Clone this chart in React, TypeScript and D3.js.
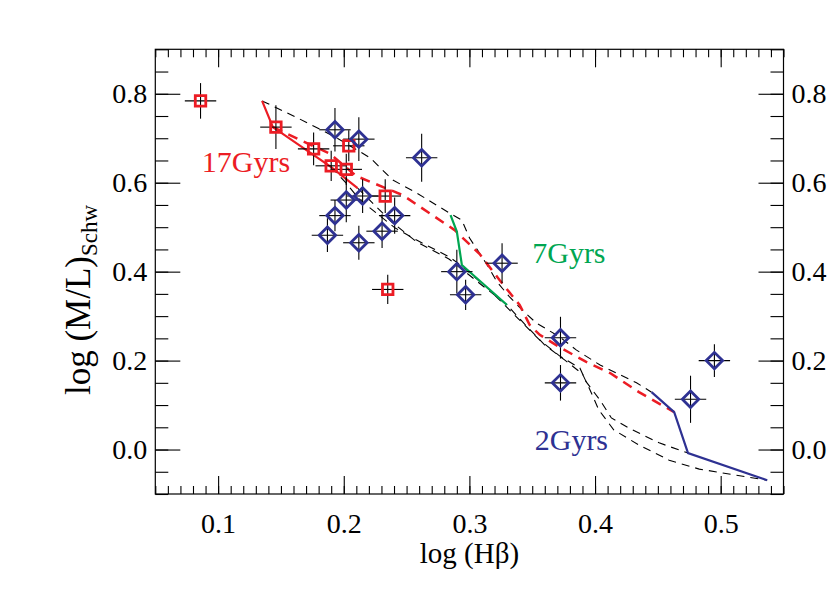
import * as d3 from 'd3';
import { useEffect, useRef } from 'react';

const WIDTH = 830;
const HEIGHT = 593;

// red squares (with errors)
const squareX = [0.086, 0.146, 0.176, 0.204, 0.190, 0.202, 0.233, 0.235];
const squareY = [0.784, 0.725, 0.676, 0.683, 0.638, 0.630, 0.570, 0.360];
const squareErrY = [0.040, 0.049, 0.037, 0.035, 0.034, 0.035, 0.038, 0.033];

// blue diamonds (with errors)
const diamondX = [0.193, 0.212, 0.262, 0.202, 0.215, 0.193, 0.2405, 0.187, 0.2305, 0.212, 0.290, 0.297, 0.326, 0.3725, 0.3725, 0.476, 0.495];
const diamondY = [0.719, 0.698, 0.656, 0.561, 0.570, 0.526, 0.526, 0.482, 0.491, 0.465, 0.400, 0.348, 0.419, 0.2515, 0.150, 0.113, 0.200];
const diamondErrY = [0.049, 0.049, 0.054, 0.050, 0.038, 0.035, 0.041, 0.038, 0.038, 0.038, 0.049, 0.034, 0.045, 0.047, 0.040, 0.053, 0.037];
const errX = 0.0125;

// model tracks (constant metallicity, dashed)
const trackA = [[0.135, 0.784], [0.163, 0.746], [0.193, 0.703], [0.221, 0.656], [0.239, 0.606], [0.258, 0.577], [0.284, 0.532], [0.294, 0.516], [0.300, 0.476], [0.308, 0.442], [0.315, 0.411], [0.322, 0.377], [0.332, 0.343], [0.342, 0.314], [0.353, 0.285], [0.372, 0.253], [0.385, 0.224], [0.404, 0.190], [0.433, 0.150], [0.445, 0.129]];
const trackRed = [[0.1436, 0.725], [0.189, 0.665], [0.210, 0.615], [0.247, 0.572], [0.268, 0.532], [0.288, 0.494], [0.308, 0.440], [0.324, 0.381], [0.340, 0.325], [0.348, 0.280], [0.356, 0.258], [0.373, 0.228], [0.393, 0.197], [0.412, 0.172], [0.435, 0.129], [0.463, 0.084]];
const trackC = [[0.190, 0.635], [0.201, 0.602], [0.213, 0.561], [0.241, 0.498], [0.258, 0.471], [0.284, 0.433], [0.294, 0.413], [0.316, 0.359], [0.340, 0.291], [0.356, 0.246], [0.372, 0.210], [0.388, 0.183], [0.393, 0.152], [0.404, 0.111], [0.413, 0.071], [0.427, 0.048], [0.451, 0.015], [0.474, -0.008]];
const trackD = [[0.211, 0.588], [0.222, 0.557], [0.238, 0.512], [0.258, 0.467], [0.284, 0.428], [0.308, 0.374], [0.330, 0.325], [0.344, 0.282], [0.360, 0.235], [0.376, 0.201], [0.390, 0.170], [0.396, 0.134], [0.403, 0.089], [0.415, 0.044], [0.435, 0.010], [0.459, -0.024], [0.483, -0.044], [0.511, -0.057], [0.537, -0.069]];

// constant age lines
const age17 = [[0.135, 0.784], [0.1436, 0.725], [0.190, 0.635], [0.211, 0.588]];
const age7 = [[0.285, 0.527], [0.290, 0.490], [0.294, 0.415], [0.330, 0.325]];
const age2 = [[0.445, 0.129], [0.463, 0.084], [0.474, -0.008], [0.537, -0.069]];

const ageLabels = [
  { text: '17Gyrs', x: 0.087, y: 0.624, color: '#ec1c24' },
  { text: '7Gyrs', x: 0.350, y: 0.419, color: '#00a651' },
  { text: '2Gyrs', x: 0.352, y: 0.0, color: '#2e3192' },
];

const xMajor = [0.1, 0.2, 0.3, 0.4, 0.5];
const yMajor = [0.0, 0.2, 0.4, 0.6, 0.8];

const RED = '#ec1c24';
const GREEN = '#00a651';
const BLUE = '#2e3192';
const FONT = "'Liberation Serif', 'Times New Roman', serif";

const App = () => {
  const svgRef = useRef<SVGSVGElement | null>(null);

  useEffect(() => {
    const margin = { left: 155.3, right: 783.5, top: 49.3, bottom: 494 };
    const x = d3.scaleLinear().domain([0.05, 0.55]).range([margin.left, margin.right]);
    const y = d3.scaleLinear().domain([-0.1, 0.9]).range([margin.bottom, margin.top]);

    const svg = d3.select(svgRef.current);
    svg.selectAll('*').remove();
    const g = svg.append('g');

    // frame
    g.append('rect')
      .attr('x', margin.left).attr('y', margin.top)
      .attr('width', margin.right - margin.left).attr('height', margin.bottom - margin.top)
      .attr('fill', 'none').attr('stroke', '#000').attr('stroke-width', 1.2);

    const xMinor = d3.range(0.05, 0.5501, 0.01);
    const yMinor = d3.range(-0.1, 0.9001, 0.05);

    const styleAxis = (sel: any) => {
      sel.select('.domain').remove();
      sel.selectAll('line').attr('stroke', '#000').attr('stroke-width', 1.1);
      sel.selectAll('text').attr('font-family', FONT).attr('font-size', 28).attr('fill', '#000');
    };

    // bottom
    g.append('g').attr('transform', `translate(0,${margin.bottom})`)
      .call(d3.axisBottom(x).tickValues(xMinor).tickSize(-8).tickFormat(() => ''))
      .call(styleAxis);
    const bottom = g.append('g').attr('transform', `translate(0,${margin.bottom})`)
      .call(d3.axisBottom(x).tickValues(xMajor).tickSize(-18).tickFormat(d3.format('.1f')))
      .call(styleAxis);
    bottom.selectAll('text').attr('y', 39).attr('dy', '0');

    // top
    g.append('g').attr('transform', `translate(0,${margin.top})`)
      .call(d3.axisTop(x).tickValues(xMinor).tickSize(-8).tickFormat(() => ''))
      .call(styleAxis);
    g.append('g').attr('transform', `translate(0,${margin.top})`)
      .call(d3.axisTop(x).tickValues(xMajor).tickSize(-18).tickFormat(() => ''))
      .call(styleAxis);

    // left
    g.append('g').attr('transform', `translate(${margin.left},0)`)
      .call(d3.axisLeft(y).tickValues(yMinor).tickSize(-13).tickFormat(() => ''))
      .call(styleAxis);
    const left = g.append('g').attr('transform', `translate(${margin.left},0)`)
      .call(d3.axisLeft(y).tickValues(yMajor).tickSize(-25).tickFormat(d3.format('.1f')))
      .call(styleAxis);
    left.selectAll('text').attr('x', -8);

    // right
    g.append('g').attr('transform', `translate(${margin.right},0)`)
      .call(d3.axisRight(y).tickValues(yMinor).tickSize(-13).tickFormat(() => ''))
      .call(styleAxis);
    const right = g.append('g').attr('transform', `translate(${margin.right},0)`)
      .call(d3.axisRight(y).tickValues(yMajor).tickSize(-25).tickFormat(d3.format('.1f')))
      .call(styleAxis);
    right.selectAll('text').attr('x', 8);

    // titles
    g.append('text')
      .attr('x', (margin.left + margin.right) / 2).attr('y', 563)
      .attr('text-anchor', 'middle')
      .attr('font-family', FONT).attr('font-size', 29)
      .text('log (Hβ)');

    const yt = g.append('text')
      .attr('transform', `translate(90,300) rotate(-90)`)
      .attr('text-anchor', 'middle')
      .attr('font-family', FONT).attr('font-size', 35);
    yt.append('tspan').text('log (M/L)');
    yt.append('tspan').attr('font-size', 23).attr('dy', 7).text('Schw');

    // model lines
    const line = d3.line<number[]>().x((d) => x(d[0])).y((d) => y(d[1]));
    const plot = g.append('g');

    [trackA, trackC, trackD].forEach((t) => {
      plot.append('path').attr('d', line(t))
        .attr('fill', 'none').attr('stroke', '#000').attr('stroke-width', 1.1)
        .attr('stroke-dasharray', '8,6');
    });
    plot.append('path').attr('d', line(trackRed))
      .attr('fill', 'none').attr('stroke', RED).attr('stroke-width', 2.5)
      .attr('stroke-dasharray', '10,7');
    plot.append('path').attr('d', line(age17))
      .attr('fill', 'none').attr('stroke', RED).attr('stroke-width', 2.2);
    plot.append('path').attr('d', line(age7))
      .attr('fill', 'none').attr('stroke', GREEN).attr('stroke-width', 2.2);
    plot.append('path').attr('d', line(age2))
      .attr('fill', 'none').attr('stroke', BLUE).attr('stroke-width', 2.2);

    // error bars
    const drawErr = (xs: number[], ys: number[], eys: number[]) => {
      xs.forEach((xv, i) => {
        plot.append('line')
          .attr('x1', x(xv - errX)).attr('x2', x(xv + errX))
          .attr('y1', y(ys[i])).attr('y2', y(ys[i]))
          .attr('stroke', '#000').attr('stroke-width', 1.1);
        plot.append('line')
          .attr('x1', x(xv)).attr('x2', x(xv))
          .attr('y1', y(ys[i] - eys[i])).attr('y2', y(ys[i] + eys[i]))
          .attr('stroke', '#000').attr('stroke-width', 1.1);
      });
    };
    drawErr(squareX, squareY, squareErrY);
    drawErr(diamondX, diamondY, diamondErrY);

    const sq = d3.symbol().type(d3.symbolSquare).size(110);
    const dm = d3.symbol().type(d3.symbolSquare).size(135);
    plot.selectAll('.sq').data(squareX).enter().append('path')
      .attr('class', 'sq')
      .attr('d', sq() as string)
      .attr('transform', (d, i) => `translate(${x(d)},${y(squareY[i])})`)
      .attr('fill', 'none').attr('stroke', RED).attr('stroke-width', 2.8);

    plot.selectAll('.dm').data(diamondX).enter().append('path')
      .attr('class', 'dm')
      .attr('d', dm() as string)
      .attr('transform', (d, i) => `translate(${x(d)},${y(diamondY[i])}) rotate(45)`)
      .attr('fill', 'none').attr('stroke', BLUE).attr('stroke-width', 2.8);

    // age labels
    plot.selectAll('.age').data(ageLabels).enter().append('text')
      .attr('class', 'age')
      .attr('x', (d) => x(d.x)).attr('y', (d) => y(d.y))
      .attr('font-family', FONT).attr('font-size', 30)
      .attr('fill', (d) => d.color)
      .text((d) => d.text);
  }, []);

  return (
    <svg
      ref={svgRef}
      width={WIDTH}
      height={HEIGHT}
      style={{ position: 'absolute', left: 0, top: 0, background: '#fff' }}
    />
  );
};

export default App;
